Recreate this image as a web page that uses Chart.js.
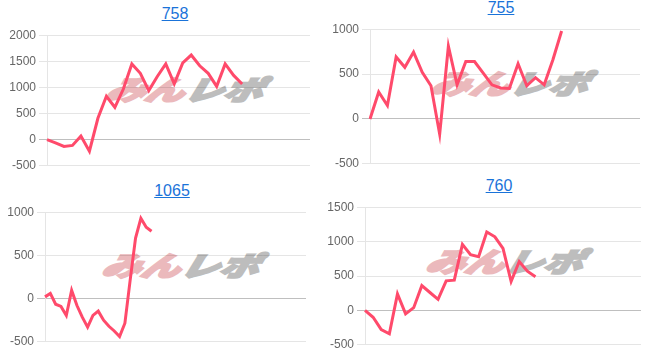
<!DOCTYPE html>
<html lang="ja">
<head>
    <meta charset="UTF-8">
    <title>収支グラフ</title>
    <style>
        body {
            margin: 0;
            background: #fff;
            font-family: Arial, "Liberation Sans", sans-serif;
            width: 655px;
            height: 350px;
            overflow: hidden;
            position: relative;
        }
        .ttl {
            position: absolute;
            width: 80px;
            margin-left: -40px;
            text-align: center;
            font-size: 16px;
            line-height: 20px;
            color: #1a73d9;
            text-decoration: underline;
        }
        .wm {
            position: absolute;
            font-family: "Noto Sans CJK JP", sans-serif;
            font-weight: 900;
            font-style: italic;
            font-size: 27px;
            line-height: 30px;
            white-space: nowrap;
            color: #ebb9bc;
            -webkit-text-stroke: 2px #ebb9bc;
            transform-origin: 0 0;
            transform: scaleX(1.45) skewX(-10deg);
        }
        .wm span {
            color: #bdbdbd;
            -webkit-text-stroke: 2px #bdbdbd;
        }
        .cv {
            position: absolute;
        }
    </style>
    <script src="https://cdn.jsdelivr.net/npm/chart.js"></script>
</head>
<body>
<script>
    // values
    const chartTitles = ['758', '755', '1065', '760'];
    const values758 = [0, -60, -130, -110, 70, -220, 410, 830, 620, 970, 1450, 1270, 940, 1210,
        1450, 1070, 1470, 1620, 1415, 1270, 1020, 1450, 1230, 1065];
    const values755 = [0, 300, 150, 690, 575, 745, 520, 370, -170, 810, 380, 640, 640, 510,
        380, 345, 340, 615, 370, 460, 380, 660, 980];
    const values1065 = [20, 60, -65, -90, -195, 95, -80, -215, -330, -195, -145, -250, -320,
        -375, -440, -285, 220, 700, 930, 825, 780];
    const values760 = [0, -100, -280, -340, 240, -50, 40, 360, 260, 160, 430, 440, 960, 810,
        780, 1140, 1070, 900, 420, 710, 570, 490];
    // number of x slots in each chart (labels are hidden)
    const slotCounts = [32, 32, 50, 35];
    const yRanges = [[-500, 2000], [-500, 1000], [-500, 1000], [-500, 1500]];
    const yStep = 500;

    const allValues = [values758, values755, values1065, values760];

    // layout of each panel: canvas box, title centre, watermark corner
    const boxes = [
        {left: 9, top: 25, w: 301, h: 151, tx: 175, ty: 4, wx: 111, wy: 74},
        {left: 332, top: 19, w: 308, h: 155, tx: 501, ty: -2, wx: 436, wy: 68},
        {left: 7, top: 202, w: 299, h: 150, tx: 172, ty: 181, wx: 107, wy: 250},
        {left: 327, top: 197, w: 314, h: 158, tx: 499, ty: 176, wx: 431, wy: 246}
    ];

    Chart.defaults.font.family = 'Arial, "Liberation Sans", sans-serif';
    Chart.defaults.font.size = 12;
    Chart.defaults.color = '#666';

    boxes.forEach((b, i) => {
        const wm = document.createElement('div');
        wm.className = 'wm';
        wm.style.left = b.wx + 'px';
        wm.style.top = b.wy + 'px';
        wm.innerHTML = 'みん<span>レポ</span>';
        document.body.appendChild(wm);

        const a = document.createElement('a');
        a.className = 'ttl';
        a.href = '#';
        a.textContent = chartTitles[i];
        a.style.left = b.tx + 'px';
        a.style.top = b.ty + 'px';
        document.body.appendChild(a);

        const div = document.createElement('div');
        div.className = 'cv';
        div.style.left = b.left + 'px';
        div.style.top = b.top + 'px';
        div.style.width = b.w + 'px';
        div.style.height = b.h + 'px';
        const canvas = document.createElement('canvas');
        div.appendChild(canvas);
        document.body.appendChild(div);

        const labels = [];
        for (let k = 0; k < slotCounts[i]; k++) labels.push(String(k + 1));

        new Chart(canvas, {
            type: 'line',
            data: {
                labels: labels,
                datasets: [{
                    data: allValues[i],
                    borderColor: '#ff4a6b',
                    borderWidth: 3,
                    pointRadius: 0,
                    tension: 0,
                    fill: false
                }]
            },
            options: {
                responsive: true,
                maintainAspectRatio: false,
                animation: false,
                layout: {padding: 0},
                plugins: {
                    legend: {display: false},
                    tooltip: {enabled: false}
                },
                scales: {
                    x: {
                        display: false,
                        offset: false
                    },
                    y: {
                        min: yRanges[i][0],
                        max: yRanges[i][1],
                        afterFit: s => { s.width = 38; },
                        ticks: {stepSize: yStep, color: '#666', padding: 3, callback: v => String(v)},
                        grid: {
                            tickLength: 8,
                            color: ctx => ctx.tick && ctx.tick.value === 0 ? 'rgba(0,0,0,0.25)' : 'rgba(0,0,0,0.1)'
                        },
                        border: {color: 'rgba(0,0,0,0.1)'}
                    }
                }
            }
        });
    });
</script>
</body>
</html>
